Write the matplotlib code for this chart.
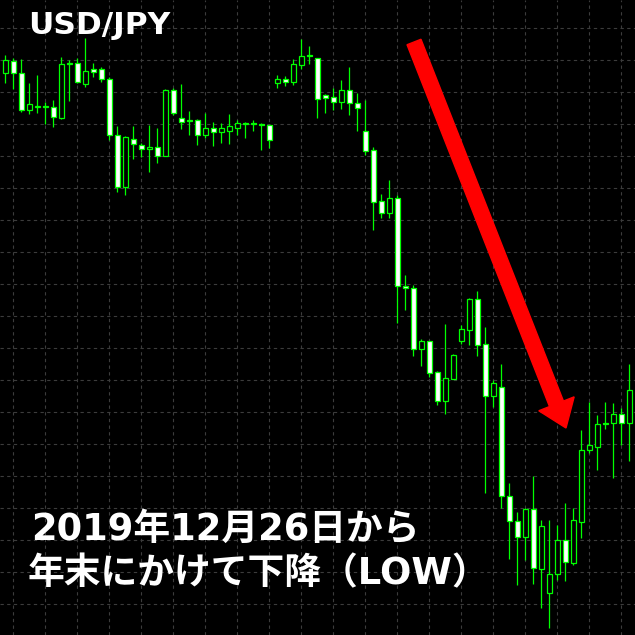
import numpy as np
import matplotlib.pyplot as plt
from matplotlib.patches import Polygon

# price levels (chart units), one entry per candle
opens = [561.7, 573.7, 561.7, 525.0, 527.7, 527.7, 527.7, 517.3, 570.7, 571.7,
         550.7, 565.7, 565.7, 555.7, 499.7, 448.3, 495.7, 489.7, 485.7, 487.7,
         479.3, 545.0, 516.7, 514.3, 515.0, 500.0, 506.7, 503.3, 504.3, 507.3,
         511.0, 510.7, 510.0, 509.7, 552.3, 555.7, 553.3, 570.3, 579.3, 576.7,
         540.0, 537.7, 533.3, 545.0, 531.7, 504.0, 485.0, 434.0, 422.3, 436.7,
         349.3, 346.7, 286.0, 294.0, 262.7, 234.3, 256.0, 294.3, 305.0, 335.7,
         290.7, 239.3, 248.3, 139.3, 114.3, 97.7, 125.7, 66.0, 41.7, 60.7,
         94.7, 72.3, 113.3, 184.7, 188.3, 211.0, 211.7, 220.7, 211.7]
highs = [580.0, 576.7, 575.7, 551.7, 560.0, 533.3, 535.0, 577.7, 575.0, 576.7,
         596.7, 571.7, 568.3, 558.3, 509.0, 499.0, 509.0, 492.3, 510.0, 506.7,
         545.7, 546.7, 551.0, 524.0, 515.7, 521.7, 512.7, 511.7, 521.0, 515.0,
         513.0, 515.0, 511.7, 509.7, 560.0, 559.0, 575.7, 596.0, 589.0, 576.7,
         541.0, 546.7, 555.0, 568.3, 542.3, 535.0, 487.7, 441.0, 455.0, 440.0,
         360.0, 350.0, 295.7, 294.0, 264.3, 311.0, 281.0, 310.0, 336.7, 344.0,
         307.7, 255.0, 271.0, 151.7, 123.3, 127.3, 159.0, 115.0, 115.0, 110.0,
         131.7, 126.7, 205.0, 233.3, 220.0, 233.3, 232.3, 227.3, 271.0]
lows = [552.3, 546.3, 523.3, 521.0, 522.3, 511.0, 507.7, 515.7, 534.3, 551.7,
        547.7, 557.7, 553.3, 495.0, 443.3, 440.0, 476.0, 478.3, 463.3, 471.7,
        479.3, 520.0, 506.0, 500.0, 490.0, 496.7, 489.0, 491.7, 491.0, 500.0,
        497.3, 504.0, 485.0, 487.3, 547.3, 549.0, 550.0, 565.7, 571.0, 517.3,
        522.3, 525.0, 526.0, 520.0, 504.3, 480.0, 405.0, 417.3, 417.3, 312.3,
        325.0, 279.0, 269.0, 258.3, 230.0, 221.0, 255.7, 291.0, 290.0, 279.0,
        142.3, 228.3, 127.3, 76.0, 50.0, 75.0, 51.0, 27.3, 6.7, 55.0,
        54.3, 70.0, 97.3, 182.3, 165.0, 206.0, 157.3, 190.0, 174.3]
closes = [575.0, 561.7, 525.0, 531.0, 528.7, 527.7, 517.7, 570.7, 571.3, 553.3,
          563.7, 563.3, 555.7, 499.7, 448.3, 497.7, 490.7, 485.7, 487.7, 479.3,
          545.0, 522.3, 513.3, 514.3, 500.0, 506.7, 503.3, 506.7, 508.7, 511.7,
          511.0, 510.7, 510.0, 494.7, 555.7, 553.3, 570.7, 579.0, 579.3, 535.7,
          537.3, 533.3, 545.0, 531.7, 526.7, 484.3, 433.3, 422.3, 436.7, 349.3,
          346.7, 285.7, 294.0, 262.3, 234.3, 256.7, 280.0, 305.7, 335.7, 290.3,
          239.3, 251.7, 139.3, 114.3, 97.7, 125.7, 66.7, 109.0, 60.7, 94.7,
          72.7, 114.7, 185.0, 189.7, 210.7, 211.0, 220.7, 211.7, 245.0]

title = "USD/JPY"
caption = ["2019年12月26日から", "年末にかけて下降（LOW）"]

green = "#00ff00"
W = H = 635

fig = plt.figure(figsize=(6.35, 6.35), dpi=100, facecolor="black")
ax = fig.add_axes([0, 0, 1, 1], facecolor="black")

x = np.arange(len(opens))
o = np.array(opens)
c = np.array(closes)
bottom = np.minimum(o, c)
height = np.maximum(np.abs(c - o), 1.2)
fill = np.where(c > o, "black", "white")

ax.vlines(x, lows, highs, color=green, lw=0.9, zorder=2)
ax.bar(x, height, bottom=bottom, width=0.6, color=fill, edgecolor=green,
       lw=0.9, zorder=3)

ax.set_xlim(-5.33 / 8, (W - 5.33) / 8)
ax.set_ylim(0, H)
ax.set_xticks(np.arange(1, 80, 4))
ax.set_yticks(np.arange(606.7, 0, -32))
ax.grid(True, color="#3c3c3c", lw=0.8, linestyle=(0, (3, 3)))
ax.set_axisbelow(True)
ax.tick_params(length=0, labelbottom=False, labelleft=False)
for s in ax.spines.values():
    s.set_visible(False)

# red arrow (figure pixels, y measured from top)
start = np.array([414.0, 42.0])
tip = np.array([566.0, 428.0])
shaft_w, head_w, head_l = 15.0, 38.0, 26.0
d = (tip - start) / np.linalg.norm(tip - start)
n = np.array([-d[1], d[0]])
base = tip - d * head_l
pts = [start + n * shaft_w / 2, base + n * shaft_w / 2, base + n * head_w / 2,
       tip, base - n * head_w / 2, base - n * shaft_w / 2, start - n * shaft_w / 2]
pts = [(p[0] / W, 1 - p[1] / H) for p in pts]
fig.patches.append(Polygon(pts, closed=True, color="red", transform=fig.transFigure,
                           zorder=5))

fig.text(28 / W, 1 - 34 / H, title, color="white", fontsize=22.5,
         fontweight="bold", family="DejaVu Sans", va="baseline", ha="left")
cap_font = ["DejaVu Sans", "Noto Sans CJK JP"]
fig.text(31 / W, 1 - 540 / H, caption[0], color="white", fontsize=26.5,
         fontweight="bold", family=cap_font, va="baseline", ha="left")
fig.text(28 / W, 1 - 584 / H, caption[1], color="white", fontsize=26.5,
         fontweight="bold", family=cap_font, va="baseline", ha="left")

fig.savefig("out.png", dpi=100, facecolor="black")
